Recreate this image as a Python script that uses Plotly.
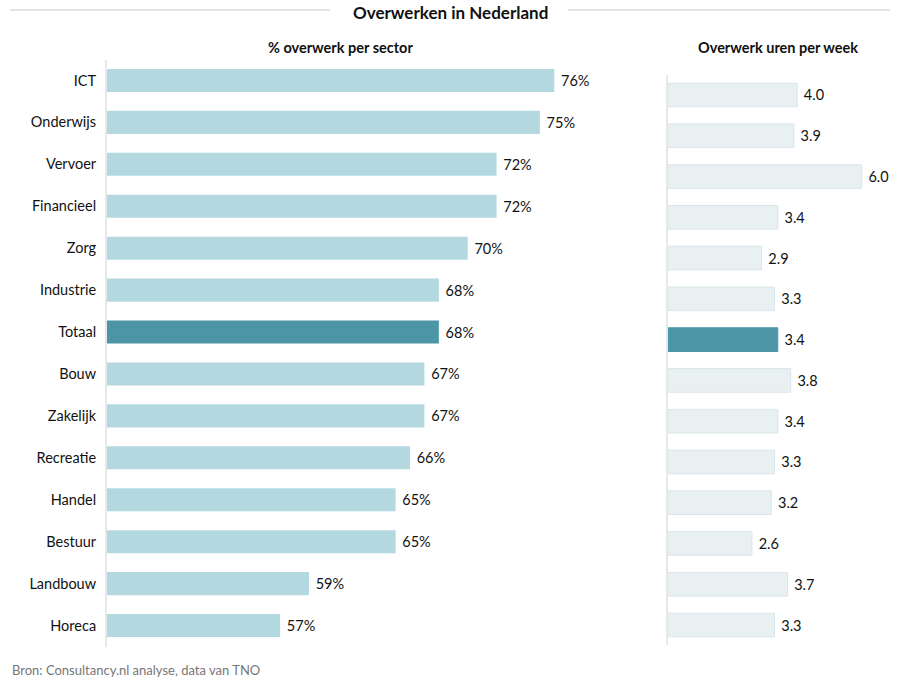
import plotly.graph_objects as go

sectors = ["ICT", "Onderwijs", "Vervoer", "Financieel", "Zorg", "Industrie", "Totaal",
           "Bouw", "Zakelijk", "Recreatie", "Handel", "Bestuur", "Landbouw", "Horeca"]
pct = [76, 75, 72, 72, 70, 68, 68, 67, 67, 66, 65, 65, 59, 57]
hours = [4.0, 3.9, 6.0, 3.4, 2.9, 3.3, 3.4, 3.8, 3.4, 3.3, 3.2, 2.6, 3.7, 3.3]

title = "Overwerken in Nederland"
left_title = "% overwerk per sector"
right_title = "Overwerk uren per week"
source = "Bron: Consultancy.nl analyse, data van TNO"

DARK = "#4b95a6"
LEFT_C = "#b4d8e0"
RIGHT_C = "#e8f0f2"
FONT = "Lato"

left_colors = [DARK if s == "Totaal" else LEFT_C for s in sectors]
right_colors = [DARK if s == "Totaal" else RIGHT_C for s in sectors]
right_lines = [DARK if s == "Totaal" else "#d9e6ea" for s in sectors]

W, H = 900, 680

fig = go.Figure()
fig.add_trace(go.Bar(
    x=pct, y=sectors, orientation="h", xaxis="x", yaxis="y",
    marker=dict(color=left_colors, line=dict(width=0)),
    width=0.55,
    text=[f" {v}%" for v in pct], textposition="outside",
    textfont=dict(family=FONT, size=14.5, color="#111"),
    cliponaxis=False, hoverinfo="skip",
))
fig.add_trace(go.Bar(
    x=hours, y=sectors, orientation="h", xaxis="x2", yaxis="y2",
    marker=dict(color=right_colors, line=dict(width=1, color=right_lines)),
    width=0.58,
    text=[f" {v:.1f}" for v in hours], textposition="outside",
    textfont=dict(family=FONT, size=14.5, color="#111"),
    cliponaxis=False, hoverinfo="skip",
))

fig.update_layout(
    width=W, height=H,
    margin=dict(l=0, r=0, t=0, b=0),
    paper_bgcolor="white", plot_bgcolor="white",
    showlegend=False,
    font=dict(family=FONT, size=14, color="#111"),
    xaxis=dict(domain=[107 / W, 612 / W], range=[45, 80], visible=False, fixedrange=True),
    yaxis=dict(domain=[1 - 646.5 / H, 1 - 59.5 / H], autorange="reversed",
               showline=True, linecolor="#e8e8e8", linewidth=2, anchor="x",
               showgrid=False, ticks="outside", ticklen=6, tickcolor="rgba(0,0,0,0)",
               tickfont=dict(family=FONT, size=14.5, color="#111")),
    xaxis2=dict(domain=[668 / W, 894 / W], range=[0, 7], visible=False, anchor="y2"),
    yaxis2=dict(domain=[1 - 645.4 / H, 1 - 74.6 / H], autorange="reversed", anchor="x2",
                showline=True, linecolor="#e8e8e8", linewidth=2,
                showgrid=False, showticklabels=False),
)

fig.add_annotation(text=f"<b>{title}</b>", x=450 / W, y=1, xref="paper", yref="paper",
                   showarrow=False, font=dict(family=FONT, size=17, color="#111"),
                   xanchor="center", yanchor="top")
fig.add_annotation(text=f"<b>{left_title}</b>", x=340 / W, y=1 - 48 / H, xref="paper", yref="paper",
                   showarrow=False, font=dict(family=FONT, size=14.5, color="#111"),
                   xanchor="center", yanchor="middle")
fig.add_annotation(text=f"<b>{right_title}</b>", x=778 / W, y=1 - 48 / H, xref="paper", yref="paper",
                   showarrow=False, font=dict(family=FONT, size=14.5, color="#111"),
                   xanchor="center", yanchor="middle")
fig.add_annotation(text=source, x=10 / W, y=0, xref="paper", yref="paper",
                   showarrow=False, font=dict(family=FONT, size=13, color="#777"),
                   xanchor="left", yanchor="bottom")

for x0, x1 in [(10, 330), (568, 890)]:
    fig.add_shape(type="line", xref="paper", yref="paper",
                  x0=x0 / W, x1=x1 / W, y0=1 - 10 / H, y1=1 - 10 / H,
                  line=dict(color="#c8c8c8", width=1.2))

fig.write_html("out.html",
               config={"displayModeBar": False},
               post_script="document.body.style.margin='0';document.body.style.overflow='hidden';")
